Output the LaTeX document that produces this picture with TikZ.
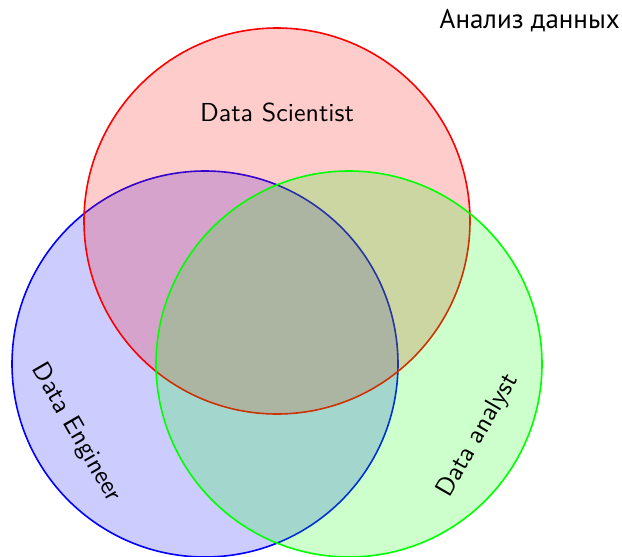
\documentclass[tikz,border=0pt]{standalone}
\usepackage{fontspec}
\newfontfamily\cyrfont{PT Sans}
\newfontfamily\lmssten{lmsans10-regular.otf}
\begin{document}
\begin{tikzpicture}[x=1pt,y=-1pt,
  setc/.style={line width=1.6pt, fill opacity=0.2},
  lbl/.style={font=\fontsize{26}{31}\lmssten, text=black, inner sep=0pt}]
\useasboundingbox (0,0) rectangle (622,557);
\coordinate (cr) at (277,221);
\coordinate (cb) at (205,364);
\coordinate (cg) at (349,364);
\path[setc, draw=blue, fill=blue] (cb) circle[radius=193];
\path[setc, draw=red, fill=red] (cr) circle[radius=193];
\path[setc, draw=green, fill=green] (cg) circle[radius=193];
\node[lbl, anchor=base] (ds) at (277,121) {Data Scientist};
\node[lbl, rotate=-60] (de) at (76,433) {Data Engineer};
\node[lbl, rotate=60] (da) at (478,436) {Data analyst};
\node[font=\fontsize{27}{32}\cyrfont, anchor=base east, inner sep=0pt] (title) at (620,28) {Анализ данных};
\end{tikzpicture}
\end{document}
